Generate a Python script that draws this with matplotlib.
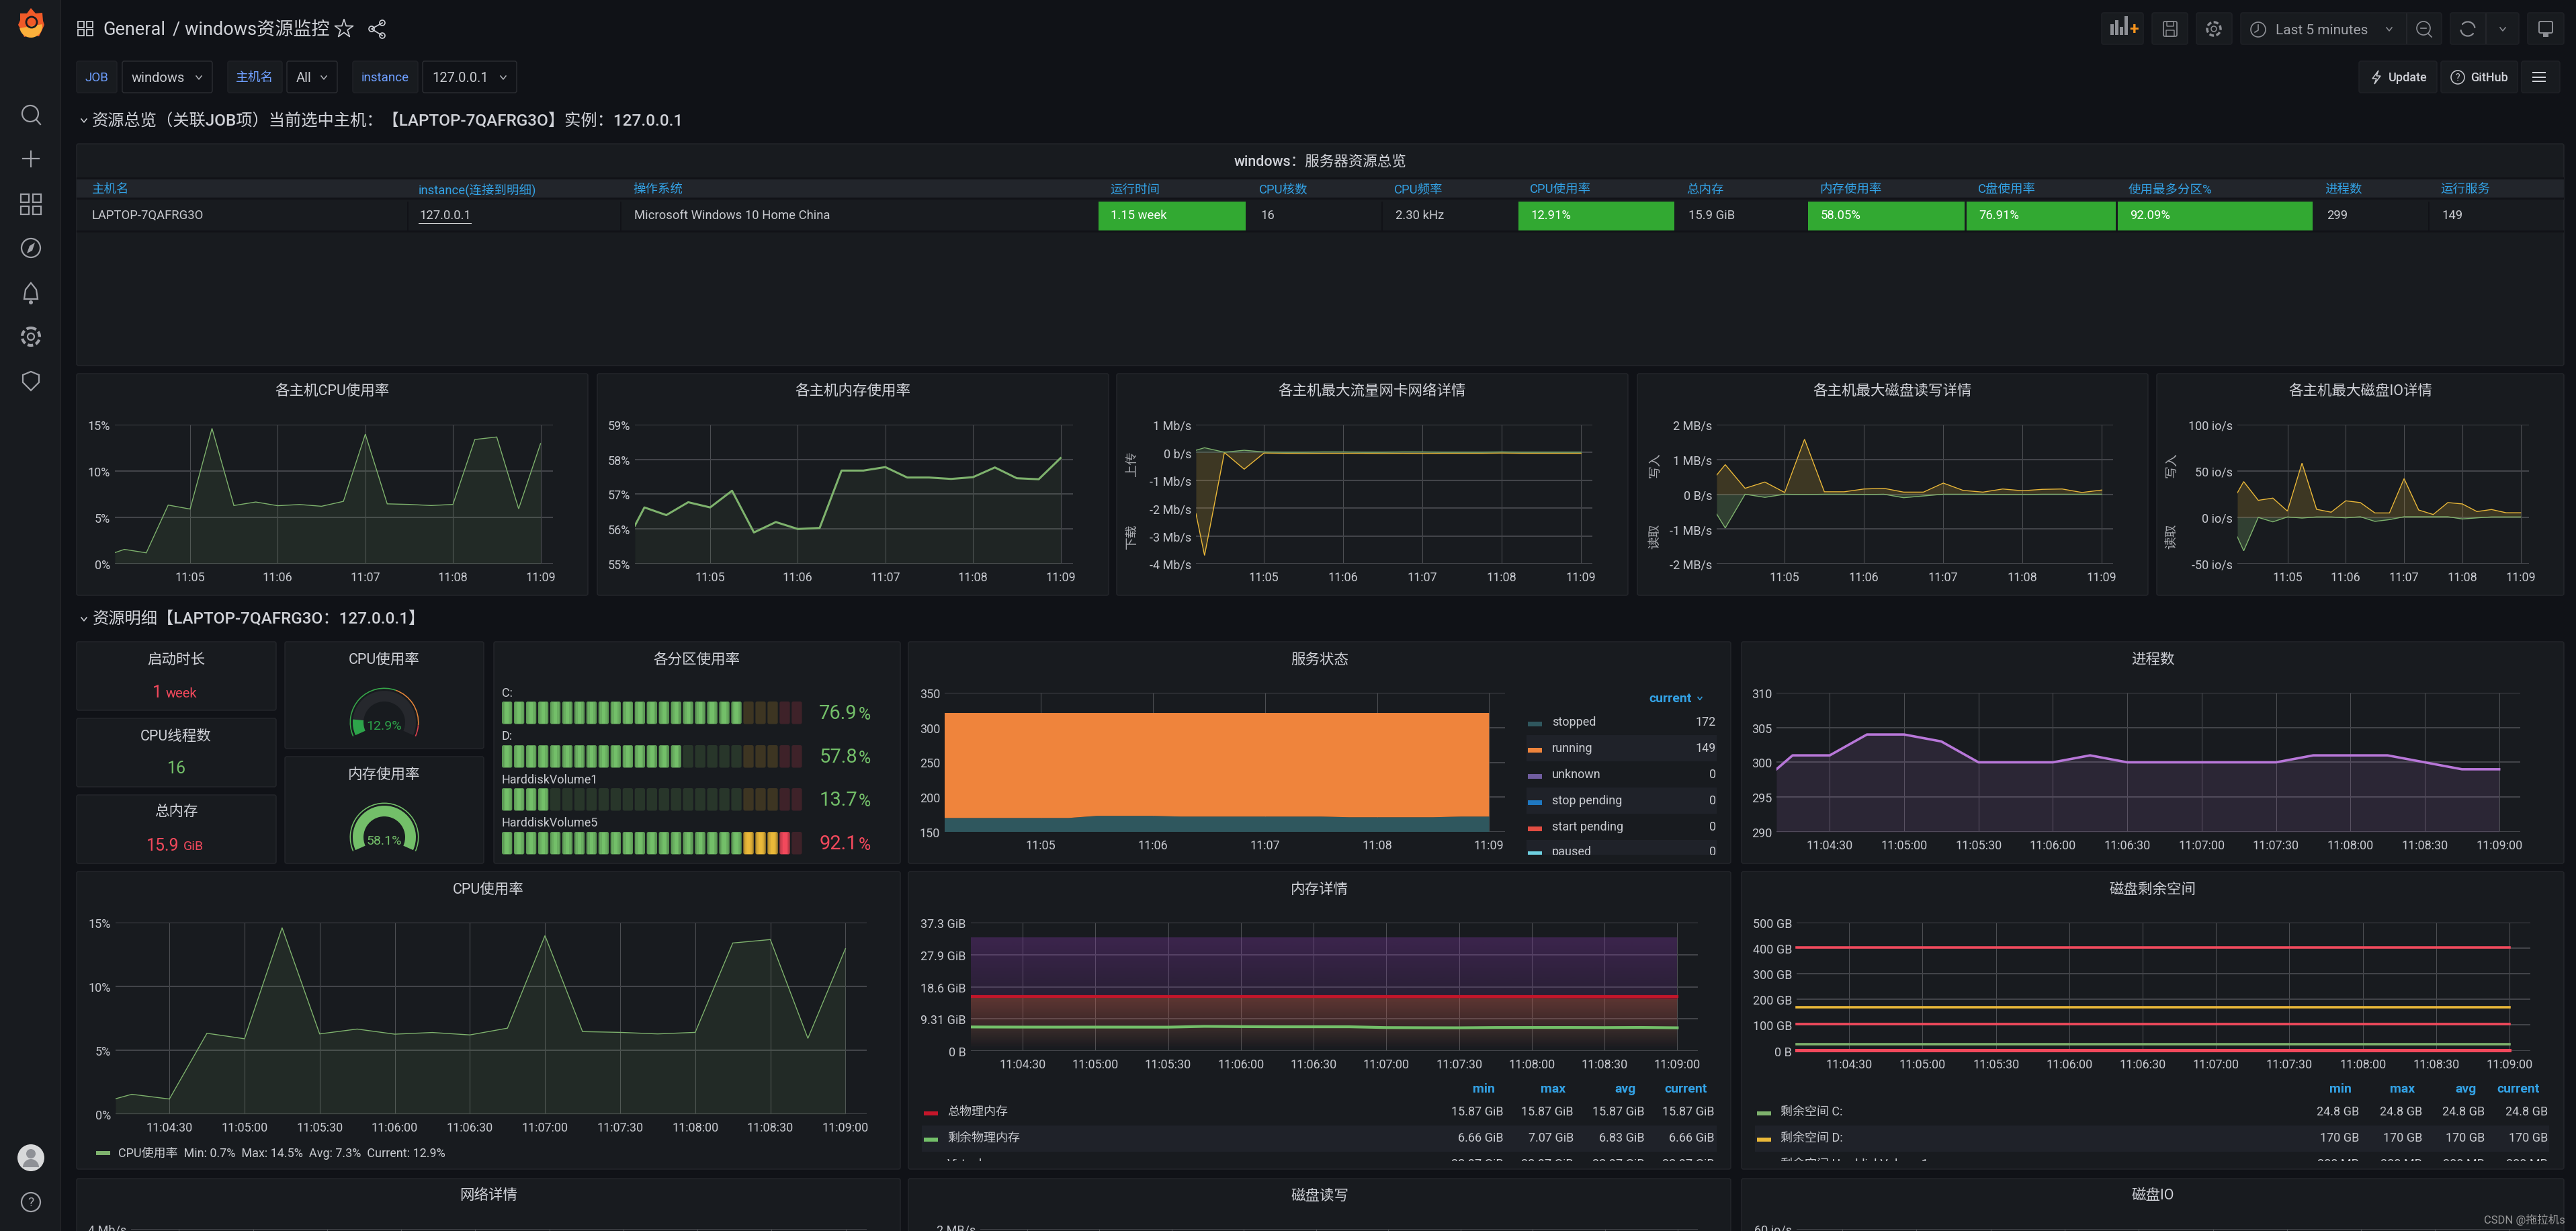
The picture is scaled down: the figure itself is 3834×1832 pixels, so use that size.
import matplotlib
matplotlib.use("Agg")
import math
import matplotlib.pyplot as plt
from matplotlib.colors import to_rgb
from matplotlib.patches import Rectangle, FancyBboxPatch, Circle, Wedge, Polygon

plt.rcParams['font.family'] = ['Roboto', 'Noto Sans CJK SC', 'DejaVu Sans']

W, H = 3834, 1833

# sample times in seconds after 11:04:00
times = [8.5, 15, 30, 45, 60, 75, 90, 105, 120, 135, 150, 165, 180, 195, 210, 225, 240, 255, 270, 285, 300]

cpu_usage = [1.2, 1.55, 1.18, 6.33, 5.9, 14.6, 6.28, 6.66, 6.26, 6.39, 6.2, 6.73, 13.98, 6.46, 6.4, 6.28, 6.4, 13.4, 13.67, 5.93, 12.96]
mem_usage = [56.1, 56.62, 56.4, 56.77, 56.62, 57.1, 55.9, 56.2, 56.0, 56.03, 57.68, 57.68, 57.78, 57.48, 57.48, 57.44, 57.49, 57.77, 57.46, 57.43, 58.04]
net_down = [-2.2, -3.7, 0.0, -0.6, -0.02, -0.03, -0.04, -0.03, -0.03, -0.03, -0.04, -0.03, -0.04, -0.03, -0.03, -0.03, -0.02, -0.03, -0.03, -0.03, -0.03]
net_up = [0.08, 0.17, 0.01, 0.08, 0.02, 0.01, 0.01, 0.02, 0.02, 0.01, 0.01, 0.02, 0.02, 0.01, 0.01, 0.01, 0.02, 0.01, 0.01, 0.01, 0.01]
disk_write = [0.55, 0.85, 0.17, 0.35, 0.05, 1.58, 0.07, 0.07, 0.15, 0.17, 0.06, 0.06, 0.32, 0.11, 0.06, 0.15, 0.1, 0.14, 0.15, 0.05, 0.12]
disk_read = [-0.57, -0.97, 0.0, -0.09, 0.0, -0.01, 0.0, 0.0, -0.01, 0.0, -0.1, -0.05, 0.0, 0.0, 0.0, -0.01, -0.01, 0.0, 0.0, 0.0, 0.0]
io_write = [26.5, 38.6, 18.4, 20.8, 6.8, 58.5, 8.7, 5.6, 17.9, 16, 4.8, 4.8, 41.8, 8, 3.1, 16, 14.5, 6.3, 8.5, 5, 5]
io_read = [-21, -36, 0, -4.8, 0.5, -0.7, 0.5, 0.5, -0.5, 0.7, -4.3, -2.4, 0.7, 0.7, 0.7, 0.7, -1.7, -0.5, 0.5, 0.5, 0.5]
svc_stopped = [170, 170, 170, 170, 170, 170, 173, 173, 173, 172, 172, 172, 172, 172, 172, 171, 171, 171, 171, 172, 172]
svc_running = [151, 151, 151, 151, 151, 151, 148, 148, 148, 149, 149, 149, 149, 149, 149, 150, 150, 150, 150, 149, 149]
proc_count = [299, 301, 301, 304, 304, 303, 300, 300, 300, 301, 300, 300, 300, 300, 300, 301, 301, 301, 300, 299, 299]
mem_virtual = [32.97] * 21
mem_total = [15.87] * 21
mem_used = [15.6, 15.6, 15.6, 15.6, 15.6, 15.6, 15.6, 15.6, 15.6, 15.5, 15.4, 15.3, 15.25, 15.25, 15.3, 15.3, 15.3, 15.2, 15.1, 15.1, 15.0]
mem_free = [6.9, 6.88, 6.86, 6.85, 6.86, 6.85, 6.84, 7.07, 7.0, 6.95, 6.95, 6.95, 6.72, 6.68, 6.66, 6.74, 6.75, 6.75, 6.72, 6.76, 6.66]
space_series = [402, 170, 105, 24.8, 0.3]
space_colors = ['#F2495C', '#EAB839', '#F2495C', '#7EB26D', '#F2495C']

minute_ticks = [60, 120, 180, 240, 300]
minute_labels = ['11:05', '11:06', '11:07', '11:08', '11:09']
half_ticks = [30, 60, 90, 120, 150, 180, 210, 240, 270, 300]
half_labels = ['11:04:30', '11:05:00', '11:05:30', '11:06:00', '11:06:30', '11:07:00', '11:07:30', '11:08:00', '11:08:30', '11:09:00']

table_headers = ['主机名', 'instance(连接到明细)', '操作系统', '运行时间', 'CPU核数', 'CPU频率', 'CPU使用率', '总内存', '内存使用率', 'C盘使用率', '使用最多分区%', '进程数', '运行服务']
table_values = ['LAPTOP-7QAFRG3O', '127.0.0.1', 'Microsoft Windows 10 Home China', '1.15 week', '16', '2.30 kHz', '12.91%', '15.9 GiB', '58.05%', '76.91%', '92.09%', '299', '149']
table_head_x = [137, 623, 942, 1652, 1874, 2075, 2277, 2510, 2708, 2944, 3168, 3460, 3632]
table_text_x = [137, 624, 944, 1653, 1876, 2077, 2279, 2513, 2710, 2945, 3170, 3463, 3634]
green_cells = [(1635, 1854), (2260, 2492), (2691, 2924), (2927, 3149), (3152, 3442)]
cell_lines = [606, 923, 2056, 3614]

partition_names = ['C:', 'D:', 'HarddiskVolume1', 'HarddiskVolume5']
partition_usage = [76.9, 57.8, 13.7, 92.1]

gauge_titles = ['CPU使用率', '内存使用率']
gauge_values = [12.9, 58.1]
gauge_max = [100, 58.1]

svc_legend = ['stopped', 'running', 'unknown', 'stop pending', 'start pending', 'paused']
svc_legend_vals = ['172', '149', '0', '0', '0', '0']
svc_legend_cols = ['#2F575E', '#EF843C', '#705DA0', '#1F78C1', '#E24D42', '#6ED0E0']

mem_legend = ['总物理内存', '剩余物理内存', 'Virtual']
mem_legend_cols = ['#C4162A', '#73BF69', '#8F3BB8']
mem_legend_vals = [['15.87 GiB'] * 4, ['6.66 GiB', '7.07 GiB', '6.83 GiB', '6.66 GiB'], ['32.97 GiB'] * 4]
space_legend = ['剩余空间 C:', '剩余空间 D:', '剩余空间 HarddiskVolume1']
space_legend_cols = ['#7EB26D', '#EAB839', '#F2495C']
space_legend_vals = [['24.8 GB'] * 4, ['170 GB'] * 4, ['300 MB'] * 4]

PAGE = '#101217'
PANEL = '#181b1f'
BORDER = '#25272c'
TEXT = '#c9cbd0'
TICK = '#c7c9cf'
BLUE = '#33a2e5'
GREEN = '#7EB26D'
YELLOW = '#EAB839'
TITLE_SIZE = 15.5

fig = plt.figure(figsize=(W / 100, H / 100), dpi=100, facecolor=PAGE)
bg = fig.add_axes([0, 0, 1, 1], zorder=0)
bg.set_xlim(0, W)
bg.set_ylim(H, 0)
bg.axis('off')
top = fig.add_axes([0, 0, 1, 1], zorder=5)
top.set_xlim(0, W)
top.set_ylim(H, 0)
top.axis('off')
top.patch.set_alpha(0)


def txt(x, y, s, size=13, color=TEXT, ha='left', weight='normal', **kw):
    return top.text(x, y, s, fontsize=size, color=color, ha=ha, va='center', fontweight=weight, **kw)


def box(x0, y0, x1, y1, fc=PANEL, ec=BORDER, r=3, ax=bg, lw=1.0):
    p = FancyBboxPatch((x0, y0), x1 - x0, y1 - y0, boxstyle=f'round,pad=0,rounding_size={r}', fc=fc, ec=ec, lw=lw)
    ax.add_patch(p)
    return p


def rect(x0, y0, x1, y1, color, ax=bg):
    ax.add_patch(Rectangle((x0, y0), x1 - x0, y1 - y0, fc=color, ec='none'))


def chevron(x, y, s=4, color='#b0b2b8'):
    top.plot([x - s, x, x + s], [y - s / 2, y + s / 2 + 1, y - s / 2], color=color, lw=1.1)


def clipped(t, clip):
    t.set_clip_path(clip)
    t.set_clip_on(True)


def chart(left, ytop, right, ybot, xlim=(8.5, 308.5)):
    ax = fig.add_axes([left / W, 1 - ybot / H, (right - left) / W, (ybot - ytop) / H], zorder=2)
    ax.patch.set_alpha(0)
    for s in ax.spines.values():
        s.set_visible(False)
    ax.set_xlim(*xlim)
    return ax


def style(ax, yticks, ylabels, xticks, xlabels):
    ax.set_yticks(yticks)
    ax.set_yticklabels(ylabels)
    ax.set_xticks(xticks)
    ax.set_xticklabels(xlabels)
    ax.tick_params(axis='both', length=0, labelsize=13, labelcolor=TICK)
    ax.tick_params(axis='x', pad=8)
    ax.tick_params(axis='y', pad=5)
    ax.grid(axis='y', color='#424449', lw=1.5)
    ax.grid(axis='x', color='#4c4e52', lw=0.8)
    ax.set_axisbelow(True)


def area(ax, y, color, lw=1.0, alpha=0.1):
    ax.fill_between(times, y, 0, color=color, alpha=alpha, lw=0)
    ax.plot(times, y, color=color, lw=lw, solid_joinstyle='miter')


def grad_fill(ax, y, color, a_top):
    rgb = to_rgb(color)
    ymax = max(y)
    img = [[(*rgb, a_top * i / 99)] for i in range(100)]
    im = ax.imshow(img, extent=[times[0], times[-1], 0, ymax], origin='lower', aspect='auto', zorder=2)
    poly = ax.fill_between(times, y, 0, color='none', lw=0)
    im.set_clip_path(poly.get_paths()[0], transform=ax.transData)


# ---------- sidebar and top bar
rect(0, 0, 89, H, PANEL)
rect(89, 0, 91, H, '#202226')
bg.add_patch(Polygon([(46, 13), (53, 21), (63, 20), (64, 32), (66, 38), (62, 47), (58, 55), (47, 53), (36, 56), (32, 47), (27, 38), (30, 31), (30, 21), (40, 21)], fc='#F05A28', ec='none'))
bg.add_patch(Wedge((46, 40), 17, -10, 170, fc='#FBB03B', ec='none'))
bg.add_patch(Circle((47, 34), 8, fc='none', ec=PANEL, lw=2))

ICON = '#a0a2a8'
icon_lw = 1.6
top.add_patch(Circle((45, 170), 12, fc='none', ec=ICON, lw=icon_lw))
top.plot([54, 60], [179, 186], color=ICON, lw=icon_lw)
top.plot([46, 46], [226, 249], color=ICON, lw=icon_lw)
top.plot([34, 58], [237, 237], color=ICON, lw=icon_lw)
for gx, gy in [(31, 290), (49, 290), (31, 308), (49, 308)]:
    top.add_patch(Rectangle((gx, gy), 12, 12, fc='none', ec=ICON, lw=icon_lw))
top.add_patch(Circle((46, 370), 14, fc='none', ec=ICON, lw=icon_lw))
top.add_patch(Polygon([(52, 362), (48, 374), (40, 378), (44, 367)], fc=ICON, ec='none'))
top.add_patch(Polygon([(46, 422), (54, 432), (56, 446), (36, 446), (38, 432)], fc='none', ec=ICON, lw=icon_lw))
top.add_patch(Circle((46, 451), 3, fc=ICON, ec='none'))
top.add_patch(Circle((46, 502), 13, fc='none', ec=ICON, lw=3, ls=(0, (2, 1))))
top.add_patch(Circle((46, 502), 5, fc='none', ec=ICON, lw=icon_lw))
top.add_patch(Polygon([(46, 554), (58, 559), (58, 570), (46, 582), (34, 570), (34, 559)], fc='none', ec=ICON, lw=icon_lw))
top.add_patch(Circle((46, 1724), 20, fc='#d8d9da', ec='none'))
top.add_patch(Circle((46, 1718), 7, fc='#8f9196', ec='none'))
top.add_patch(Wedge((46, 1738), 12, 180, 360, fc='#8f9196', ec='none'))
top.add_patch(Circle((46, 1790), 14, fc='none', ec=ICON, lw=icon_lw))
txt(46, 1790, '?', size=14, color=ICON, ha='center')

for gx, gy in [(116, 33), (129, 33), (116, 45), (129, 45)]:
    top.add_patch(Rectangle((gx, gy), 9, 9, fc='none', ec='#c9cbd0', lw=1.3))
txt(153, 44, 'General', size=19.5, color='#d0d2d8')
txt(257, 44, '/ windows资源监控', size=19.5, color='#d0d2d8')
top.scatter([512], [44], marker='*', s=420, facecolor='none', edgecolor='#d0d2d8', lw=1.2)
for px, py in [(553, 44), (569, 35), (569, 54)]:
    top.add_patch(Circle((px, py), 4, fc='none', ec='#d0d2d8', lw=1.2))
top.plot([569, 553, 569], [35, 44, 54], color='#d0d2d8', lw=1.2)

# template variables
filters = [(114, 174, 'JOB', 182, 316, 'windows'), (339, 420, '主机名', 427, 502, 'All'), (525, 622, 'instance', 629, 769, '127.0.0.1')]
for x0, x1, lab, vx0, vx1, val in filters:
    box(x0, 92, x1, 139, fc=PANEL, ec='#202227')
    box(vx0, 92, vx1, 139, fc=PAGE, ec='#2c2e33')
    txt((x0 + x1) / 2, 116, lab, size=13.5, color='#6e9fff', ha='center')
    txt(vx0 + 14, 116, val, size=14.5, color='#c9cbd0')
    chevron(vx1 - 20, 116)

# right toolbar
for x0, x1 in [(3128, 3190), (3203, 3256), (3269, 3322), (3335, 3634), (3647, 3749), (3762, 3816)]:
    box(x0, 20, x1, 67, fc=PANEL, ec='#202227')
for x0 in [3581, 3699]:
    rect(x0, 21, x0 + 1.5, 66, '#24262b')
for bx, bh in [(3141, 16), (3148, 22), (3155, 12), (3162, 28)]:
    rect(bx, 53 - bh, bx + 5, 53, '#8e9096')
txt(3176, 44, '+', size=18, color='#F7941D', ha='center', weight='bold')
box(3220, 33, 3240, 55, fc='none', ec='#8e9096', r=2, lw=1.2)
box(3225, 33, 3235, 40, fc='none', ec='#8e9096', r=0.5, lw=1.0)
box(3224, 46, 3236, 55, fc='none', ec='#8e9096', r=0.5, lw=1.0)
top.add_patch(Circle((3295, 44), 10, fc='none', ec='#8e9096', lw=2.5, ls=(0, (2, 1))))
top.add_patch(Circle((3295, 44), 4, fc='none', ec='#8e9096', lw=1.1))
top.add_patch(Circle((3361, 45), 11, fc='none', ec='#8e9096', lw=1.2))
top.plot([3361, 3361, 3356], [38, 46, 49], color='#8e9096', lw=1.2)
txt(3387, 45, 'Last 5 minutes', size=15, color='#a0a2a8')
chevron(3556, 44, color='#8e9096')
top.add_patch(Circle((3607, 43), 10, fc='none', ec='#8e9096', lw=1.2))
top.plot([3603, 3611], [43, 43], color='#8e9096', lw=1.2)
top.plot([3614, 3619], [51, 56], color='#8e9096', lw=1.2)
top.add_patch(Wedge((3673, 44), 11, 40, 170, width=0.8, fc='#8e9096', ec='#8e9096'))
top.add_patch(Wedge((3673, 44), 11, 220, 350, width=0.8, fc='#8e9096', ec='#8e9096'))
chevron(3725, 44, color='#8e9096')
box(3779, 33, 3799, 50, fc='none', ec='#8e9096', r=2, lw=1.4)
rect(3785, 50, 3793, 56, '#8e9096')
for x0, x1 in [(3511, 3627), (3633, 3747), (3753, 3810)]:
    box(x0, 92, x1, 139, fc=PANEL, ec='#202227')
top.add_patch(Polygon([(3540, 106), (3531, 118), (3537, 118), (3534, 126), (3543, 114), (3537, 114)], fc='none', ec='#c9cbd0', lw=1.1))
txt(3555, 116, 'Update', size=13, color='#d0d2d8', weight='medium')
top.add_patch(Circle((3658, 116), 10, fc='none', ec='#c9cbd0', lw=1.1))
txt(3658, 116, '?', size=10, color='#c9cbd0', ha='center')
txt(3677, 116, 'GitHub', size=13, color='#d0d2d8', weight='medium')
for hy in [109, 116, 122]:
    rect(3769, hy - 1, 3789, hy + 1.2, '#d0d2d8')

# ---------- overview table
chevron(125, 180, color='#d0d2d8')
txt(137, 180, '资源总览（关联JOB项）当前选中主机：【LAPTOP-7QAFRG3O】实例：127.0.0.1', size=17.5, color='#d0d2d8', weight='medium')
box(114, 215, 3816, 545)
txt(1965, 241, 'windows：服务器资源总览', size=TITLE_SIZE, ha='center', color='#d0d2d8', weight='medium')
rect(114, 265, 3816, 268, '#111217')
rect(114, 268, 3816, 295, '#22252b')
rect(114, 295, 3816, 298, '#111217')
rect(114, 344, 3816, 347, '#111217')
for lx in cell_lines:
    rect(lx, 301, lx + 2, 344, '#111217')
for x0, x1 in green_cells:
    rect(x0, 301, x1, 344, '#32a932')
for hx, head in zip(table_head_x, table_headers):
    txt(hx, 283, head, size=13.3, color=BLUE)
for i, (vx, val) in enumerate(zip(table_text_x, table_values)):
    white = i in (3, 6, 8, 9, 10)
    txt(vx, 321, val, size=13.3, color='#ffffff' if white else '#c9cbd0')
rect(623, 332.5, 702, 334, '#d8d9da')

# ---------- row 2
row2_panels = [(114, 875, '各主机CPU使用率'), (889, 1650, '各主机内存使用率'), (1662, 2423, '各主机最大流量网卡网络详情'), (2437, 3197, '各主机最大磁盘读写详情'), (3210, 3816, '各主机最大磁盘IO详情')]
for x0, x1, title in row2_panels:
    box(x0, 557, x1, 887)
    txt((x0 + x1) / 2, 582, title, size=TITLE_SIZE, ha='center', color='#d0d2d8')

ax = chart(171, 633, 823, 840)
ax.set_ylim(0, 15)
style(ax, [0, 5, 10, 15], ['0%', '5%', '10%', '15%'], minute_ticks, minute_labels)
area(ax, cpu_usage, GREEN, lw=1.0)

ax = chart(945, 633, 1597, 840)
ax.set_ylim(55, 59)
style(ax, [55, 56, 57, 58, 59], ['55%', '56%', '57%', '58%', '59%'], minute_ticks, minute_labels)
ax.fill_between(times, mem_usage, 55, color=GREEN, alpha=0.07, lw=0)
ax.plot(times, mem_usage, color=GREEN, lw=2.2)

ax = chart(1780, 633, 2370, 840)
ax.set_ylim(-4, 1)
style(ax, [-4, -3, -2, -1, 0, 1], ['-4 Mb/s', '-3 Mb/s', '-2 Mb/s', '-1 Mb/s', '0 b/s', '1 Mb/s'], minute_ticks, minute_labels)
area(ax, net_down, YELLOW, lw=1.0, alpha=0.18)
area(ax, net_up, GREEN, lw=1.0, alpha=0.2)
txt(1685, 690, '上传', size=13.5, rotation=90, ha='center', color='#a9abb0')
txt(1685, 798, '下载', size=13.5, rotation=90, ha='center', color='#a9abb0')

ax = chart(2555, 633, 3145, 840)
ax.set_ylim(-2, 2)
style(ax, [-2, -1, 0, 1, 2], ['-2 MB/s', '-1 MB/s', '0 B/s', '1 MB/s', '2 MB/s'], minute_ticks, minute_labels)
area(ax, disk_write, YELLOW, lw=1.0, alpha=0.18)
area(ax, disk_read, GREEN, lw=1.0, alpha=0.25)
txt(2463, 692, '写入', size=13.5, rotation=90, ha='center', color='#a9abb0')
txt(2463, 798, '读取', size=13.5, rotation=90, ha='center', color='#a9abb0')

ax = chart(3330, 633, 3764, 840)
ax.set_ylim(-50, 100)
style(ax, [-50, 0, 50, 100], ['-50 io/s', '0 io/s', '50 io/s', '100 io/s'], minute_ticks, minute_labels)
area(ax, io_write, YELLOW, lw=1.0, alpha=0.18)
area(ax, io_read, GREEN, lw=1.0, alpha=0.25)
txt(3232, 692, '写入', size=13.5, rotation=90, ha='center', color='#a9abb0')
txt(3232, 798, '读取', size=13.5, rotation=90, ha='center', color='#a9abb0')

# ---------- row 3 stats
chevron(125, 922, color='#d0d2d8')
txt(138, 922, '资源明细【LAPTOP-7QAFRG3O：127.0.0.1】', size=17.5, color='#d0d2d8', weight='medium')

RED = '#F2495C'
LIGHT = '#73BF69'
box(114, 956, 411, 1058)
box(114, 1070, 411, 1172)
box(114, 1184, 411, 1286)
txt(262, 982, '启动时长', size=TITLE_SIZE, ha='center', color='#d0d2d8')
txt(241, 1031, '1', size=18, color=RED, ha='right')
txt(247, 1032, 'week', size=14.5, color=RED)
txt(262, 1096, 'CPU线程数', size=TITLE_SIZE, ha='center', color='#d0d2d8')
txt(263, 1144, '16', size=18, color=LIGHT, ha='center')
txt(262, 1209, '总内存', size=TITLE_SIZE, ha='center', color='#d0d2d8')
txt(266, 1259, '15.9', size=18, color=RED, ha='right')
txt(273, 1260, 'GiB', size=14, color=RED)

# gauges
GA0, GA1 = 204, -24


def arc(ax, cx, cy, r, w, a0, a1, color):
    ax.add_patch(Wedge((cx, cy), r, -a0, -a1, width=w, fc=color, ec='none'))


box(424, 956, 720, 1115)
box(424, 1127, 720, 1286)
gauge_y = [1076, 1247]
gauge_cols = ['#2da44a', LIGHT]
title_y = [982, 1153]
text_y = [1081, 1252]
for i in range(2):
    cx, cy = 572, gauge_y[i]
    arc(bg, cx, cy, 47, 16, GA0, GA1, '#26282d')
    frac = gauge_values[i] / gauge_max[i]
    arc(bg, cx, cy, 47, 16, GA0, GA0 - (GA0 - GA1) * frac, gauge_cols[i])
    txt(572, title_y[i], gauge_titles[i], size=TITLE_SIZE, ha='center', color='#d0d2d8')
    txt(572, text_y[i], f'{gauge_values[i]}%', size=14, ha='center', color=gauge_cols[i])
arc(bg, 572, gauge_y[0], 51.5, 1.6, GA0, 70, '#37a84a')
arc(bg, 572, gauge_y[0], 51.5, 1.6, 70, -5, '#e5853a')
arc(bg, 572, gauge_y[0], 51.5, 1.6, -5, GA1, '#e0404f')
arc(bg, 572, gauge_y[1], 51.5, 1.6, GA0, GA1, LIGHT)

# led bars
box(735, 956, 1340, 1286)
txt(1037, 982, '各分区使用率', size=TITLE_SIZE, ha='center', color='#d0d2d8')
label_y = [1032, 1096, 1161, 1225]
bar_top = [1045, 1110, 1174, 1239]
N_CELLS = 25
for i, name in enumerate(partition_names):
    txt(747, label_y[i], name, size=13, color='#c9cbd0')
    val = partition_usage[i]
    lit = math.ceil(val * N_CELLS / 100)
    for c in range(N_CELLS):
        if c < 20:
            on, mid, off, edge = '#73BF69', '#69ad60', '#28362a', '#5c9a55'
        elif c < 23:
            on, mid, off, edge = '#EAB839', '#d6a835', '#3d3522', '#bd942e'
        else:
            on, mid, off, edge = '#F2495C', '#dd4354', '#3e2229', '#c23b4a'
        x = 747 + c * 17.97
        y0, y1 = bar_top[i], bar_top[i] + 33.5
        if c < lit:
            box(x, y0, x + 15.3, y1, fc=edge, ec='none', r=2.5)
            rect(x + 2.5, y0 + 0.5, x + 12.8, y1 - 0.5, mid)
            rect(x + 5, y0 + 0.5, x + 10.3, y1 - 0.5, on)
        else:
            box(x, y0, x + 15.3, y1, fc=off, ec='none', r=2.5)
    col = RED if val >= 92 else LIGHT
    txt(1276, bar_top[i] + 17, f'{val}', size=21, color=col, ha='right')
    txt(1278, bar_top[i] + 19, '%', size=18, color=col)

# service state
box(1352, 956, 2576, 1286)
txt(1964, 982, '服务状态', size=TITLE_SIZE, ha='center', color='#d0d2d8')
ax = chart(1406, 1032, 2240, 1239)
ax.set_ylim(150, 350)
style(ax, [150, 200, 250, 300, 350], ['150', '200', '250', '300', '350'], minute_ticks, minute_labels)
ax.stackplot(times, svc_stopped, svc_running, colors=['#2F575E', '#EF843C'], lw=0, zorder=2)

txt(2518, 1040, 'current', size=14, color=BLUE, ha='right', weight='bold')
chevron(2530, 1040, s=3, color=BLUE)
legend_clip = Rectangle((2260, 1050), 310, 223, transform=top.transData)
svc_rows = [1075, 1114, 1153, 1192, 1231, 1268]
rect(2272, 1095, 2555, 1134, '#1f2229')
rect(2272, 1173, 2555, 1212, '#1f2229')
rect(2272, 1251, 2555, 1273, '#1f2229')
for i, name in enumerate(svc_legend):
    sw = svc_rows[i] + 3
    rect(2274, sw - 3, 2295, min(sw + 4, 1273), svc_legend_cols[i])
    t1 = txt(2310, svc_rows[i], name, size=13, color='#c9cbd0')
    t2 = txt(2554, svc_rows[i], svc_legend_vals[i], size=13, color='#c9cbd0', ha='right')
    clipped(t1, legend_clip)
    clipped(t2, legend_clip)

# processes
box(2592, 956, 3816, 1286)
txt(3204, 982, '进程数', size=TITLE_SIZE, ha='center', color='#d0d2d8')
ax = chart(2644, 1032, 3751, 1239)
ax.set_ylim(290, 310)
style(ax, [290, 295, 300, 305, 310], ['290', '295', '300', '305', '310'], half_ticks, half_labels)
ax.fill_between(times, proc_count, 290, color='#B877D9', alpha=0.12, lw=0)
ax.plot(times, proc_count, color='#B877D9', lw=2.6)

# ---------- row 4
for x0, x1, title in [(114, 1340, 'CPU使用率'), (1352, 2576, '内存详情'), (2592, 3816, '磁盘剩余空间')]:
    box(x0, 1298, x1, 1741)
    txt((x0 + x1) / 2, 1324, title, size=TITLE_SIZE, ha='center', color='#d0d2d8')

ax = chart(172, 1374, 1290, 1659)
ax.set_ylim(0, 15)
style(ax, [0, 5, 10, 15], ['0%', '5%', '10%', '15%'], half_ticks, half_labels)
area(ax, cpu_usage, GREEN, lw=1.0)
rect(143, 1714, 164, 1720, GREEN)
txt(176, 1716, 'CPU使用率  Min: 0.7%  Max: 14.5%  Avg: 7.3%  Current: 12.9%', size=13, color='#c9cbd0')

ax = chart(1444.5, 1374, 2527, 1564.6)
ax.set_ylim(0, 37.3)
style(ax, [0, 9.31, 18.6, 27.9, 37.3], ['0 B', '9.31 GiB', '18.6 GiB', '27.9 GiB', '37.3 GiB'], half_ticks, half_labels)
grad_fill(ax, mem_virtual, '#8F3BB8', 0.3)
grad_fill(ax, mem_total, '#C4162A', 0.1)
grad_fill(ax, mem_used, '#FF9830', 0.2)
grad_fill(ax, mem_free, '#73BF69', 0.05)
ax.fill_between(times, mem_used, mem_total, color='#C4162A', alpha=0.4, lw=0, zorder=2)
ax.set_xlim(8.5, 308.5)
ax.set_ylim(0, 37.3)
ax.plot(times, mem_total, color='#C4162A', lw=3, zorder=3)
ax.plot(times, mem_free, color='#73BF69', lw=3, zorder=3)

ax = chart(2674, 1374, 3766, 1564.6)
ax.set_ylim(0, 500)
style(ax, [0, 100, 200, 300, 400, 500], ['0 B', '100 GB', '200 GB', '300 GB', '400 GB', '500 GB'], half_ticks, half_labels)
for level, col in zip(space_series, space_colors):
    ax.plot([times[0], times[-1]], [level, level], color=col, lw=3.6 if level < 1 else 2.6, clip_on=False, zorder=3)


def table_legend(names, cols, vals, sx, stripe, col_right, head_right):
    lclip = Rectangle((stripe[0], 1600), stripe[1] - stripe[0] + 10, 129, transform=top.transData)
    for hd, hx in zip(['min', 'max', 'avg', 'current'], head_right):
        txt(hx, 1621, hd, size=14, color=BLUE, ha='right', weight='bold')
    rect(stripe[0], 1676, stripe[1], 1715, '#1f2229')
    for r, (name, col, row) in enumerate(zip(names, cols, vals)):
        y = 1655 + 39 * r
        if r < 2:
            rect(sx, y + 0, sx + 21, y + 6, col)
        t = txt(sx + 35, y, name, size=13, color='#c9cbd0')
        clipped(t, lclip)
        for v, vx in zip(row, col_right):
            t = txt(vx, y, v, size=13, color='#c9cbd0', ha='right')
            clipped(t, lclip)


table_legend(mem_legend, mem_legend_cols, mem_legend_vals, 1375, (1372, 2555), [2237, 2342, 2447, 2552], [2225, 2330, 2435, 2541])
table_legend(space_legend, space_legend_cols, space_legend_vals, 2615, (2612, 3794), [3511, 3605, 3698, 3792], [3500, 3594, 3686, 3780])

# ---------- row 5, cut off by the bottom of the picture
row5 = [(114, 1340, '网络详情', 195, 1290, 10.6, '4 Mb/s'), (1352, 2576, '磁盘读写', 1459, 2527, 10.6, '2 MB/s'), (2592, 3816, '磁盘IO', 2674, 3766, 11.5, '60 io/s')]
for x0, x1, title, left, right, xmin, toplab in row5:
    box(x0, 1755, x1, 1900)
    txt((x0 + x1) / 2, 1780, title, size=TITLE_SIZE, ha='center', color='#d0d2d8')
    ax = chart(left, 1829.5, right, 2100, xlim=(xmin, 308.5))
    ax.set_ylim(0, 1)
    style(ax, [1], [toplab], half_ticks, [''] * 10)

txt(3818, 1815, 'CSDN @拖拉机s', size=12, color='#a8a8a8', ha='right', alpha=0.9)

fig.savefig('out.png', dpi=100, facecolor=PAGE)
